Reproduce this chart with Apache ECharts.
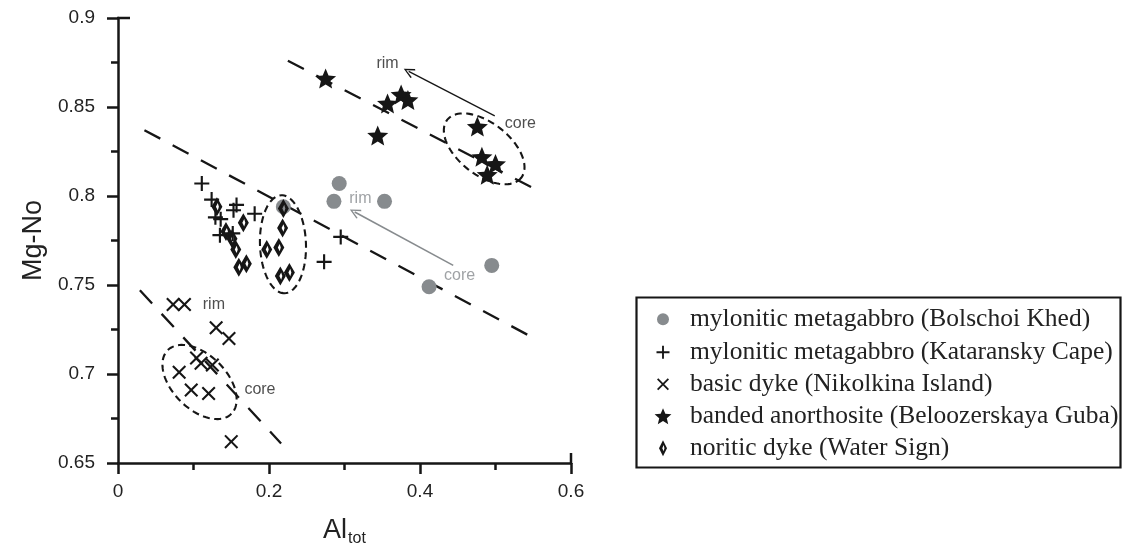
<!DOCTYPE html>
<html>
<head>
<meta charset="utf-8">
<script src="https://cdn.jsdelivr.net/npm/echarts@6/dist/echarts.min.js"></script>
<style>
  html, body { margin: 0; padding: 0; background: #fff; }
  #chart { width: 1122px; height: 552px; }
</style>
</head>
<body>
<div id="chart"></div>
<script>
// Rock groups (legend order)
const groupNames = [
  'mylonitic metagabbro (Bolschoi Khed)',
  'mylonitic metagabbro (Kataransky Cape)',
  'basic dyke (Nikolkina Island)',
  'banded anorthosite (Beloozerskaya Guba)',
  'noritic dyke (Water Sign)'
];

// [Al_tot, Mg-No] per analysis
const bolschoiKhed = [[0.293, 0.807], [0.286, 0.797], [0.353, 0.797], [0.495, 0.761], [0.412, 0.749], [0.219, 0.794]];
const kataranskyCape = [[0.111, 0.807], [0.124, 0.798], [0.157, 0.795], [0.153, 0.792], [0.181, 0.790], [0.129, 0.788],
  [0.136, 0.787], [0.152, 0.779], [0.135, 0.778], [0.295, 0.777], [0.273, 0.763]];
const nikolkinaIsland = [[0.073, 0.739], [0.088, 0.739], [0.130, 0.726], [0.147, 0.720], [0.104, 0.709], [0.110, 0.706],
  [0.125, 0.705], [0.081, 0.701], [0.097, 0.691], [0.120, 0.689], [0.150, 0.662]];
const beloozerskayaGuba = [[0.275, 0.866], [0.357, 0.852], [0.375, 0.857], [0.384, 0.854], [0.344, 0.834], [0.476, 0.839],
  [0.482, 0.822], [0.500, 0.818], [0.489, 0.812]];
const waterSign = [[0.131, 0.794], [0.166, 0.785], [0.143, 0.780], [0.151, 0.776], [0.156, 0.770], [0.160, 0.760],
  [0.170, 0.762], [0.219, 0.793], [0.218, 0.782], [0.197, 0.770], [0.213, 0.771], [0.215, 0.755], [0.227, 0.757]];

// Dashed trend lines (end points)
const trendUpper = [[0.225, 0.876], [0.561, 0.802]];
const trendMiddle = [[0.035, 0.837], [0.547, 0.721]];
const trendLower = [[0.029, 0.747], [0.216, 0.661]];

// Core -> rim zoning arrows (tail, head)
const arrowStars = [[0.499, 0.845], [0.385, 0.870]];
const arrowCircles = [[0.444, 0.761], [0.3135, 0.791]];

// Annotation words [Al_tot, Mg-No, text]
const darkNotes = [[0.357, 0.8746, 'rim'], [0.533, 0.8404, 'core'], [0.127, 0.7389, 'rim'], [0.188, 0.6914, 'core']];
const greyNotes = [[0.321, 0.7986, 'rim'], [0.4525, 0.7554, 'core']];

// Centres of the dashed core / cluster outlines
const outlineCentres = [[0.485, 0.8265], [0.2185, 0.7729], [0.108, 0.6955]];

// Axis ranges
const xRange = [0, 0.6, 0.2];
const yRange = [0.65, 0.9, 0.05];

// ---- drawing ----
const INK = '#161616';
const GREY = '#878b8e';
const outlineShapes = [ { a: 47, b: 26, rot: 38 }, { a: 49, b: 23, rot: 88 }, { a: 45, b: 27, rot: 45 } ];

const SYM = {
  plus: 'path://M-1,-7H1V-1H7V1H1V7H-1V1H-7V-1H-1Z',
  cross: 'path://M0,-1.414L5.293,-6.707L6.707,-5.293L1.414,0L6.707,5.293L5.293,6.707L0,1.414L-5.293,6.707L-6.707,5.293L-1.414,0L-6.707,-5.293L-5.293,-6.707Z',
  star: 'path://M0,-10L2.64,-3.63L9.511,-3.09L4.28,1.39L5.878,8.09L0,4.5L-5.878,8.09L-4.28,1.39L-9.511,-3.09L-2.64,-3.63Z',
  diamond: 'path://M0,-10L5,0L0,10L-5,0Z M0.8,-3.9L-0.9,0L0.8,3.9L1.8,0Z',
  head: 'path://M0,0L6,10L4.6,10.9L0,2.8L-4.6,10.9L-6,10Z'
};

const chart = echarts.init(document.getElementById('chart'), null, { renderer: 'canvas' });

function trendSeries(pts) {
  return {
    type: 'line', data: pts, symbol: 'none', silent: true, z: 1,
    lineStyle: { color: INK, width: 2.3, type: [18, 14] }
  };
}
function arrowSeries(pts, color, width) {
  return {
    type: 'line', data: [], silent: true, z: 3,
    markLine: {
      silent: true, animation: false,
      symbol: ['none', SYM.head], symbolSize: [10, 11],
      label: { show: false },
      lineStyle: { color: color, width: width, type: 'solid' },
      data: [[{ coord: pts[0] }, { coord: pts[1] }]]
    }
  };
}
function noteSeries(notes, color) {
  return {
    type: 'scatter', silent: true, z: 6, symbolSize: 1,
    itemStyle: { color: 'rgba(0,0,0,0)' },
    data: notes.map(n => ({ value: [n[0], n[1]], name: n[2] })),
    label: { show: true, position: 'inside', formatter: '{b}', color: color, fontSize: 16, fontFamily: 'Liberation Sans' }
  };
}

// iconW: drawn width of the legend icon at iconH
const seriesStyle = [
  { data: bolschoiKhed, symbol: 'circle', symbolSize: 15, color: GREY, icon: 'circle', iconH: 12, iconW: 12 },
  { data: kataranskyCape, symbol: SYM.plus, symbolSize: 15, color: INK, icon: SYM.plus, iconH: 13, iconW: 13 },
  { data: nikolkinaIsland, symbol: SYM.cross, symbolSize: 14, color: INK, icon: SYM.cross, iconH: 12, iconW: 12 },
  { data: beloozerskayaGuba, symbol: SYM.star, symbolSize: [21, 20], color: INK, icon: SYM.star, iconH: 16, iconW: 16.8 },
  { data: waterSign, symbol: SYM.diamond, symbolSize: [11, 19], color: INK, icon: SYM.diamond, iconH: 16, iconW: 8 }
];

const scatterSeries = seriesStyle.map((s, i) => ({
  name: groupNames[i], type: 'scatter', data: s.data, symbol: s.symbol, symbolSize: s.symbolSize,
  itemStyle: { color: s.color, opacity: 1 }, z: 4 + (i === 0 ? 0 : 1)
}));

const ICON_X = 663;
const legendRows = [319, 352, 384, 416, 448];
const legends = seriesStyle.map((s, i) => ({
  data: [{ name: groupNames[i], icon: s.icon }],
  orient: 'vertical', left: ICON_X - s.iconW / 2, top: legendRows[i] - 12.8, padding: 0,
  itemWidth: 44, itemHeight: s.iconH, selectedMode: false,
  textStyle: { fontFamily: 'Liberation Serif', fontSize: 25.5, color: '#222' }
}));

const ellipseSeries = {
  type: 'custom', silent: true, z: 2,
  data: outlineCentres.map((c, i) => [c[0], c[1], i]),
  renderItem(params, api) {
    const p = api.coord([api.value(0), api.value(1)]);
    const e = outlineShapes[api.value(2)];
    const r = e.rot * Math.PI / 180;
    const pts = [];
    for (let k = 0; k <= 96; k++) {
      const t = k / 96 * Math.PI * 2;
      const ex = e.a * Math.cos(t), ey = e.b * Math.sin(t);
      pts.push([p[0] + ex * Math.cos(r) - ey * Math.sin(r), p[1] + ex * Math.sin(r) + ey * Math.cos(r)]);
    }
    return { type: 'polygon', shape: { points: pts }, style: { fill: 'none', stroke: INK, lineWidth: 2.1, lineDash: [7, 4.5] } };
  }
};

const axisCommon = {
  type: 'value',
  axisLine: { lineStyle: { color: INK, width: 2.5 } },
  axisTick: { length: 11, lineStyle: { color: INK, width: 2.5 } },
  minorTick: { show: true, splitNumber: 2, length: 7, lineStyle: { color: INK, width: 2.5 } },
  splitLine: { show: false },
  minorSplitLine: { show: false }
};

chart.setOption({
  animation: false,
  backgroundColor: '#fff',
  grid: { left: 118, top: 18, width: 453, height: 453, containLabel: false },
  xAxis: Object.assign({}, axisCommon, {
    min: xRange[0], max: xRange[1], interval: xRange[2],
    axisLabel: { fontSize: 19, color: '#222', fontFamily: 'Liberation Sans', margin: 19 },
    name: '{a|Al}{b|tot}', nameLocation: 'middle', nameGap: 52,
    nameTextStyle: {
      rich: {
        a: { fontSize: 27, fontFamily: 'Liberation Sans', color: '#222' },
        b: { fontSize: 16, fontFamily: 'Liberation Sans', color: '#222', padding: [16, 0, 0, 1] }
      }
    }
  }),
  yAxis: Object.assign({}, axisCommon, {
    min: yRange[0], max: yRange[1], interval: yRange[2],
    axisLabel: { fontSize: 19, color: '#222', fontFamily: 'Liberation Sans', margin: 23 },
    name: 'Mg-No', nameLocation: 'middle', nameGap: 71,
    nameTextStyle: { fontSize: 27, fontFamily: 'Liberation Sans', color: '#222' }
  }),
  legend: legends,
  series: [
    trendSeries(trendUpper), trendSeries(trendMiddle), trendSeries(trendLower),
    ellipseSeries,
    arrowSeries(arrowStars, INK, 1.3), arrowSeries(arrowCircles, GREY, 1.6),
    ...scatterSeries,
    noteSeries(darkNotes, '#222'), noteSeries(greyNotes, GREY)
  ]
});

// Legend frame and the end caps of both axes
const topEnd = chart.convertToPixel({ gridIndex: 0 }, [xRange[0], yRange[1]]);
const rightEnd = chart.convertToPixel({ gridIndex: 0 }, [xRange[1], yRange[0]]);
chart.setOption({
  graphic: [
    { type: 'rect', id: 'legendFrame', silent: true, shape: { x: 636.5, y: 297.5, width: 484, height: 170 },
      style: { fill: 'none', stroke: INK, lineWidth: 2.2 } },
    { type: 'line', id: 'capY', silent: true, shape: { x1: topEnd[0] - 1, y1: topEnd[1], x2: topEnd[0] + 12, y2: topEnd[1] },
      style: { stroke: INK, lineWidth: 2.5 } },
    { type: 'line', id: 'capX', silent: true, shape: { x1: rightEnd[0], y1: rightEnd[1] + 1, x2: rightEnd[0], y2: rightEnd[1] - 10 },
      style: { stroke: INK, lineWidth: 2.5 } }
  ]
});
</script>
</body>
</html>
